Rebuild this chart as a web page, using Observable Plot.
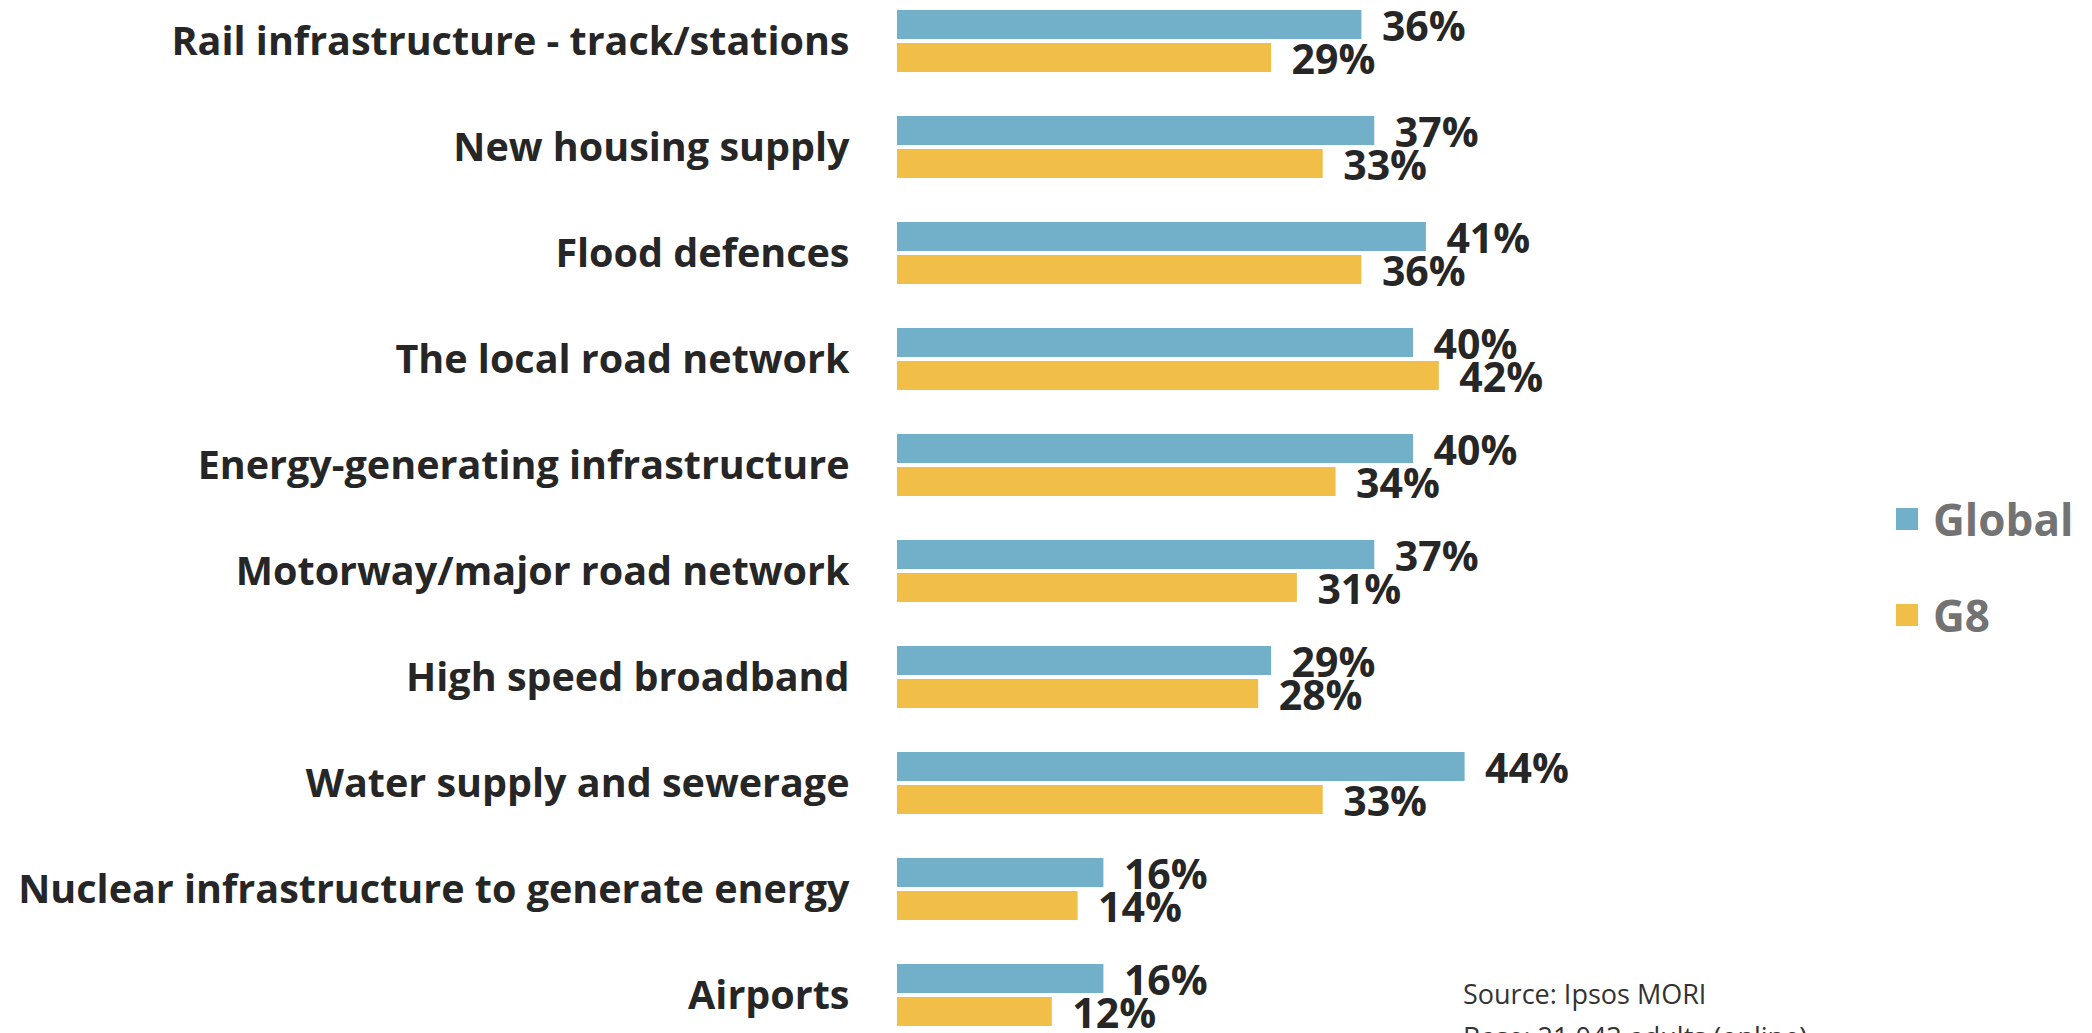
<!DOCTYPE html>
<html>
<head>
<meta charset="utf-8">
<script src="https://cdn.jsdelivr.net/npm/d3@7"></script>
<script src="https://cdn.jsdelivr.net/npm/@observablehq/plot@0.6"></script>
<style>
  html, body { margin: 0; padding: 0; background: #fff; overflow: hidden; width: 2092px; height: 1033px; }
  #wrap { position: relative; width: 2092px; height: 1033px; font-family: "Open Sans", sans-serif; }
  #chart { position: absolute; left: 0; top: 0; }
  .leg { position: absolute; display: flex; align-items: center; font-weight: 700; font-size: 44px; color: #737373; }
  .leg .sw { width: 22px; height: 22px; margin-right: 15px; }
  #source { position: absolute; left: 1463px; top: 972px; font-size: 27px; line-height: 43px; color: #333; }
</style>
</head>
<body>
<div id="wrap">
  <div id="chart"></div>
  <div id="legend"></div>
  <div id="source"></div>
</div>
<script>
const categories = [
  "Rail infrastructure - track/stations",
  "New housing supply",
  "Flood defences",
  "The local road network",
  "Energy-generating infrastructure",
  "Motorway/major road network",
  "High speed broadband",
  "Water supply and sewerage",
  "Nuclear infrastructure to generate energy",
  "Airports"
];
const seriesNames = ["Global", "G8"];
const globalValues = [36, 37, 41, 40, 40, 37, 29, 44, 16, 16];
const g8Values = [29, 33, 36, 42, 34, 31, 28, 33, 14, 12];
const colors = ["#72B0CA", "#F1BE48"];
const sourceLines = ["Source: Ipsos MORI", "Base: 21,043 adults (online)"];

const data = [];
categories.forEach((c, i) => {
  data.push({category: c, series: seriesNames[0], value: globalValues[i]});
  data.push({category: c, series: seriesNames[1], value: g8Values[i]});
});

const chart = Plot.plot({
  width: 1800,
  height: 1033,
  marginLeft: 897,
  marginRight: 258,
  marginTop: 8,
  marginBottom: 5,
  style: {fontFamily: "Open Sans, sans-serif", background: "transparent", overflow: "visible"},
  x: {domain: [0, 50], axis: null},
  y: {domain: seriesNames, axis: null, paddingInner: 0.12, paddingOuter: 0},
  fy: {domain: categories, paddingInner: 0.409, paddingOuter: 0, label: null},
  color: {domain: seriesNames, range: colors},
  marks: [
    Plot.axisFy({anchor: "left", tickSize: 0, tickPadding: 48, fontSize: 39.5, fontWeight: "bold", fill: "#262626", label: null}),
    Plot.barX(data, {x: "value", y: "series", fy: "category", fill: "series"}),
    Plot.text(data, {x: "value", y: "series", fy: "category", text: d => d.value + "%", textAnchor: "start", dx: 20, dy: 3, fontSize: 41, fontWeight: "bold", fill: "#262626"})
  ]
});
document.getElementById("chart").appendChild(chart);

const legend = document.getElementById("legend");
const legTops = [489, 585];
seriesNames.forEach((s, i) => {
  const el = document.createElement("div");
  el.className = "leg";
  el.style.left = "1896px";
  el.style.top = legTops[i] + "px";
  el.innerHTML = `<span class="sw" style="background:${colors[i]}"></span><span>${s}</span>`;
  legend.appendChild(el);
});

document.getElementById("source").innerHTML = sourceLines.map(t => `<div>${t}</div>`).join("");
</script>
</body>
</html>
